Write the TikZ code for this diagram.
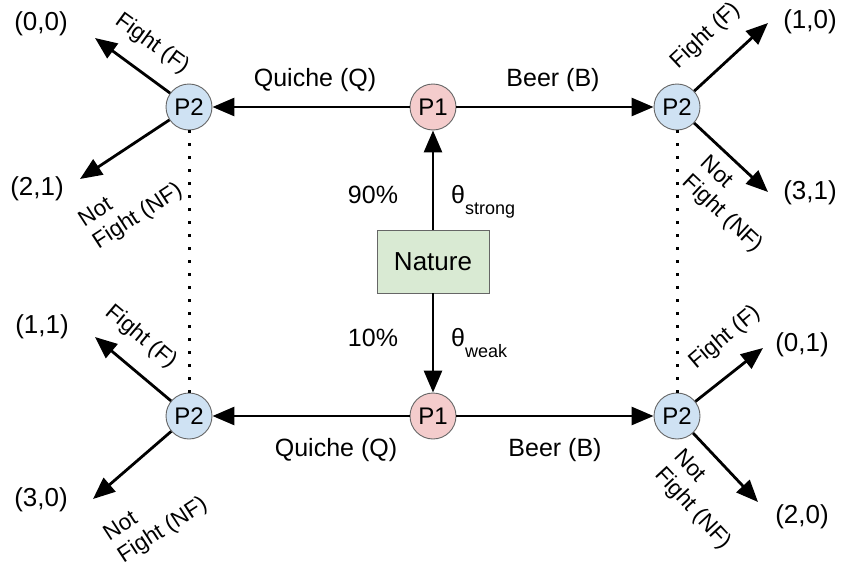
\documentclass[tikz,border=0pt]{standalone}
\usepackage{fontspec}
\setmainfont{Liberation Sans}
\usetikzlibrary{arrows.meta}
\definecolor{pone}{HTML}{F4CCCC}
\definecolor{ptwo}{HTML}{CFE2F3}
\definecolor{natfill}{HTML}{D9EAD3}
\definecolor{bord}{HTML}{666666}
\begin{document}
\begin{tikzpicture}[x=1pt,y=-1pt,
  player/.style={circle, draw=bord, line width=0.9pt, minimum size=46pt, inner sep=0pt, font=\fontsize{24}{24}\selectfont},
  pa/.style={player, fill=pone},
  pb/.style={player, fill=ptwo},
  edge/.style={line width=2.8pt, -{Triangle[length=22pt,width=18pt]}},
  lab/.style={font=\fontsize{25}{28}\selectfont, inner sep=0pt},
  pay/.style={font=\fontsize{26}{28}\selectfont, inner sep=0pt},
  blab/.style={font=\fontsize{22.5}{26}\selectfont, inner sep=0pt, align=left},
  info/.style={line width=3pt, dash pattern=on 3pt off 10pt}
]
\useasboundingbox (0,0) rectangle (844,562);

% players
\node[pa] (P1t) at (433,107) {P1};
\node[pa] (P1b) at (433,416) {P1};
\node[pb] (P2tl) at (189,107) {P2};
\node[pb] (P2tr) at (677,107) {P2};
\node[pb] (P2bl) at (189,416) {P2};
\node[pb] (P2br) at (677,416) {P2};
\node[draw=bord, line width=0.9pt, fill=natfill, minimum width=112pt, minimum height=63pt, inner sep=0pt, font=\fontsize{26}{26}\selectfont] (N) at (433,261.5) {Nature};

% nature moves
\draw[edge] (N) -- (P1t);
\draw[edge] (N) -- (P1b);
\node[lab] (p90) at (373,195) {90\%};
\node[lab] (p10) at (373,338) {10\%};
\node[lab, anchor=base west] (ths) at (451,203) {θ\raisebox{-11pt}{\fontsize{18}{18}\selectfont strong}};
\node[lab, anchor=base west] (thw) at (451,346) {θ\raisebox{-11pt}{\fontsize{18}{18}\selectfont weak}};

% P1 moves
\draw[edge] (P1t) -- (P2tl);
\draw[edge] (P1t) -- (P2tr);
\draw[edge] (P1b) -- (P2bl);
\draw[edge] (P1b) -- (P2br);
\node[lab] (qt) at (315,80) {Quiche (Q)};
\node[lab] (bt) at (553,80) {Beer (B)};
\node[lab] (qb) at (336,450) {Quiche (Q)};
\node[lab] (bb) at (555,450) {Beer (B)};

% information sets
\draw[info] (P2tl.south) -- (P2bl.north);
\draw[info] (P2tr.south) -- (P2br.north);

% P2 moves
\coordinate (tlF) at (95,38);
\coordinate (tlN) at (80,179);
\coordinate (trF) at (768,23);
\coordinate (trN) at (768,192);
\coordinate (blF) at (95,337);
\coordinate (blN) at (93,499);
\coordinate (brF) at (763,348);
\coordinate (brN) at (758,502);
\draw[edge] (P2tl) -- (tlF);
\draw[edge] (P2tl) -- (tlN);
\draw[edge] (P2tr) -- (trF);
\draw[edge] (P2tr) -- (trN);
\draw[edge] (P2bl) -- (blF);
\draw[edge] (P2bl) -- (blN);
\draw[edge] (P2br) -- (brF);
\draw[edge] (P2br) -- (brN);

\node[blab, rotate=-36] (ltlF) at (152,44) {Fight (F)};
\node[blab, rotate=33] (ltlN) at (131,206) {Not\\Fight (NF)};
\node[blab, rotate=43] (ltrF) at (706,36) {Fight (F)};
\node[blab, rotate=-43] (ltrN) at (731,205) {Not\\Fight (NF)};
\node[blab, rotate=-40] (lblF) at (141,337) {Fight (F)};
\node[blab, rotate=33] (lblN) at (156,520) {Not\\Fight (NF)};
\node[blab, rotate=40] (lbrF) at (725,338) {Fight (F)};
\node[blab, rotate=-47] (lbrN) at (702,500) {Not\\Fight (NF)};

% payoffs
\node[pay] (o1) at (41,24) {(0,0)};
\node[pay] (o2) at (37,189) {(2,1)};
\node[pay] (o3) at (810,22) {(1,0)};
\node[pay] (o4) at (810,193) {(3,1)};
\node[pay] (o5) at (42,327) {(1,1)};
\node[pay] (o6) at (41,500) {(3,0)};
\node[pay] (o7) at (802,345) {(0,1)};
\node[pay] (o8) at (802,517) {(2,0)};
\end{tikzpicture}
\end{document}
